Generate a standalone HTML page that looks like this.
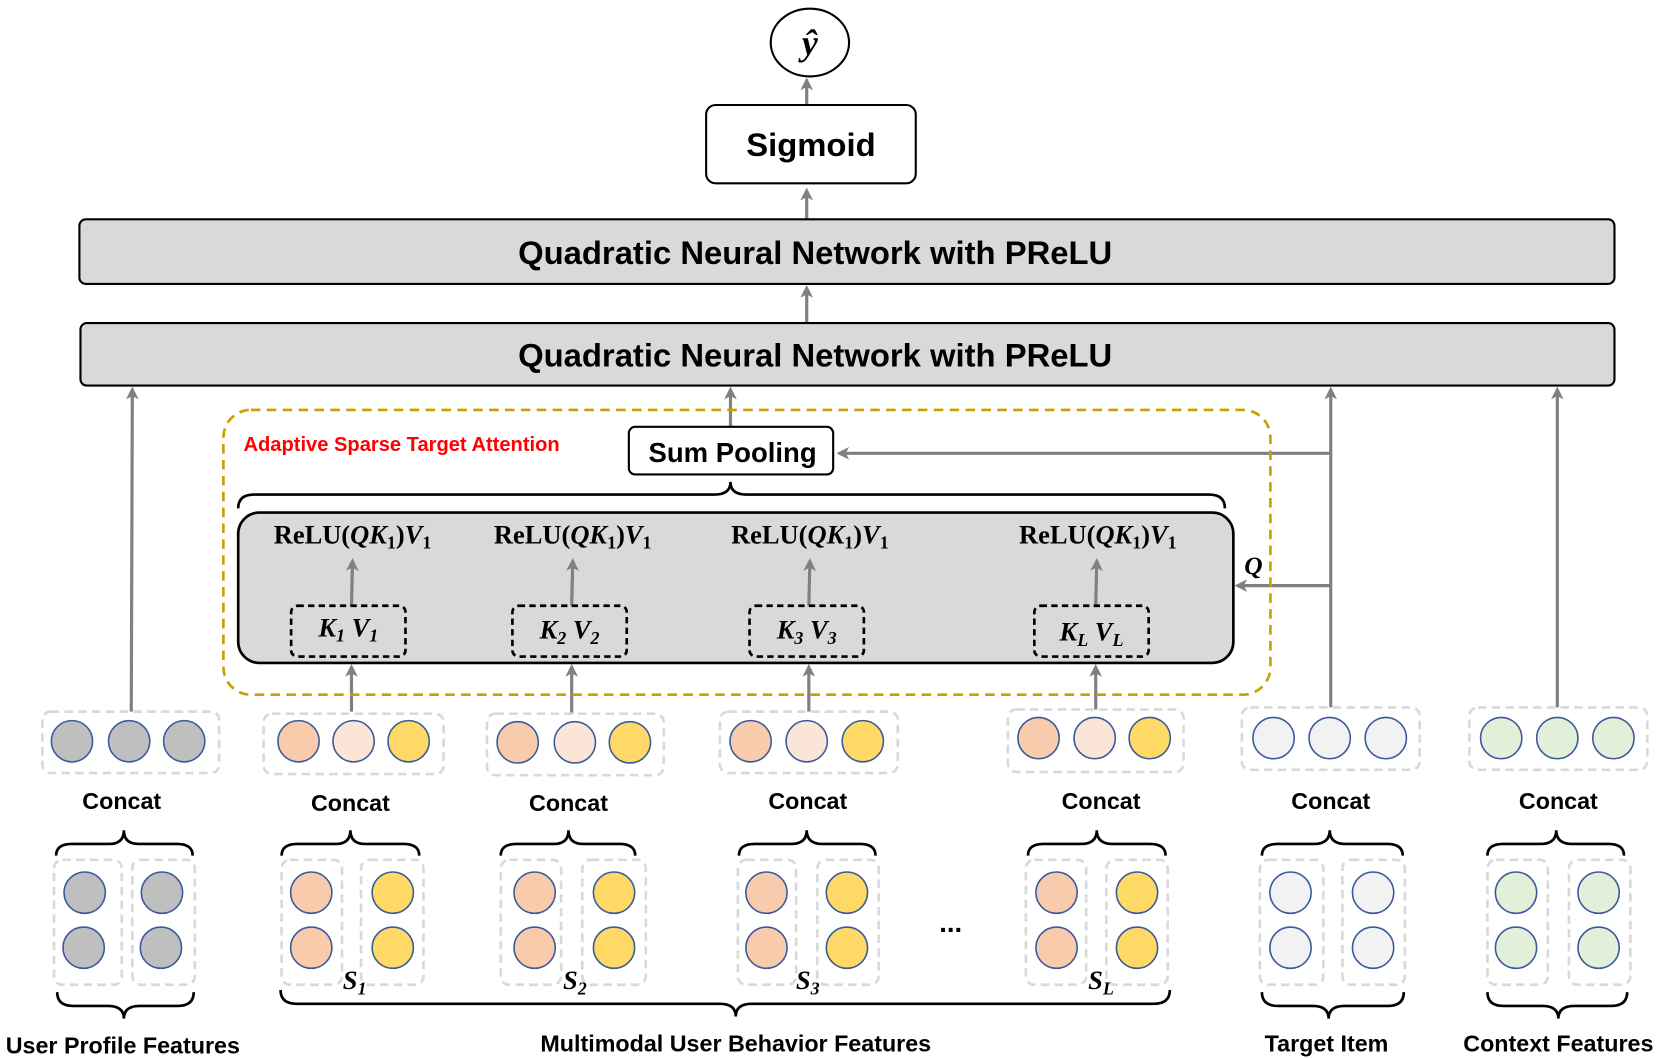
<!DOCTYPE html>
<html><head><meta charset="utf-8"><style>
html,body{margin:0;padding:0;background:#fff;}
svg{display:block;}
.s{font-family:"Liberation Sans",sans-serif;font-weight:bold;fill:#000;}
.m{font-family:"Liberation Serif","DejaVu Serif",serif;font-weight:bold;fill:#000;}
.i{font-style:italic;}
</style></head><body>
<svg width="1660" height="1058" viewBox="0 0 1568 999" xmlns="http://www.w3.org/2000/svg">
<defs>
<marker id="a" markerWidth="4" markerHeight="4" refX="3" refY="2" orient="auto" markerUnits="strokeWidth">
<path d="M0,0 L4,2 L0,4 L1,2 z" fill="#808080"/></marker>
</defs>
<g stroke="#808080" stroke-width="3" fill="none" marker-end="url(#a)">
<line x1="762" y1="99" x2="762" y2="76"/>
<line x1="762" y1="207" x2="762" y2="180"/>
<line x1="762" y1="305" x2="762" y2="272"/>
<line x1="690" y1="403" x2="690" y2="368"/>
<line x1="124" y1="672" x2="125" y2="368"/>
<line x1="1257" y1="668" x2="1257" y2="368"/>
<line x1="1471" y1="668" x2="1471" y2="368"/>
<line x1="1257" y1="428" x2="793" y2="428"/>
<line x1="1257" y1="553" x2="1169" y2="553"/>
<line x1="332" y1="672" x2="332" y2="630"/>
<line x1="540" y1="674" x2="540" y2="630"/>
<line x1="764" y1="672" x2="764" y2="630"/>
<line x1="1035" y1="670" x2="1035" y2="630"/>
</g>
<ellipse cx="765" cy="40" rx="37" ry="32" fill="#fff" stroke="#000" stroke-width="2"/>
<text x="765" y="52" text-anchor="middle" class="m i" font-size="34">ŷ</text>
<rect x="667" y="99" width="198" height="74" rx="9" fill="#fff" stroke="#000" stroke-width="2"/>
<text x="766" y="147" text-anchor="middle" class="s" font-size="31">Sigmoid</text>
<rect x="75" y="207" width="1450" height="61" rx="6" fill="#d9d9d9" stroke="#000" stroke-width="2"/>
<text x="770" y="249" text-anchor="middle" class="s" font-size="31">Quadratic Neural Network with PReLU</text>
<rect x="76" y="305" width="1449" height="59" rx="6" fill="#d9d9d9" stroke="#000" stroke-width="2"/>
<text x="770" y="346" text-anchor="middle" class="s" font-size="31">Quadratic Neural Network with PReLU</text>
<rect x="211" y="387" width="989" height="269" rx="26" fill="none" stroke="#c9a000" stroke-width="2.5" stroke-dasharray="9,6"/>
<text x="230" y="426" class="s" font-size="19" style="fill:#ff0000">Adaptive Sparse Target Attention</text>
<rect x="594" y="403" width="193" height="45" rx="6" fill="#fff" stroke="#000" stroke-width="2"/>
<text x="692" y="436" text-anchor="middle" class="s" font-size="26">Sum Pooling</text>
<path d="M225,480 Q225,467 240,467 L675,467 Q690,467 690,455 Q690,467 705,467 L1142,467 Q1157,467 1157,480" fill="none" stroke="#000" stroke-width="2.5"/>
<rect x="225" y="484" width="940" height="142" rx="20" fill="#d9d9d9" stroke="#000" stroke-width="2.5"/>
<g stroke="#808080" stroke-width="3" fill="none" marker-end="url(#a)">
<line x1="332" y1="572" x2="333" y2="530"/>
<line x1="540" y1="572" x2="541" y2="530"/>
<line x1="764" y1="572" x2="765" y2="530"/>
<line x1="1035" y1="572" x2="1036" y2="530"/>
</g>
<g class="m" font-size="25" text-anchor="middle">
<text x="333" y="513">ReLU(<tspan class="i">QK</tspan><tspan font-size="17" dy="5">1</tspan><tspan dy="-5">)</tspan><tspan class="i">V</tspan><tspan font-size="17" dy="5">1</tspan></text>
<text x="541" y="513">ReLU(<tspan class="i">QK</tspan><tspan font-size="17" dy="5">1</tspan><tspan dy="-5">)</tspan><tspan class="i">V</tspan><tspan font-size="17" dy="5">1</tspan></text>
<text x="765" y="513">ReLU(<tspan class="i">QK</tspan><tspan font-size="17" dy="5">1</tspan><tspan dy="-5">)</tspan><tspan class="i">V</tspan><tspan font-size="17" dy="5">1</tspan></text>
<text x="1037" y="513">ReLU(<tspan class="i">QK</tspan><tspan font-size="17" dy="5">1</tspan><tspan dy="-5">)</tspan><tspan class="i">V</tspan><tspan font-size="17" dy="5">1</tspan></text>
</g>
<g fill="none" stroke="#000" stroke-width="2.5" stroke-dasharray="6,4">
<rect x="275" y="572" width="108" height="48" rx="6"/>
<rect x="484" y="572" width="108" height="48" rx="6"/>
<rect x="708" y="572" width="108" height="48" rx="6"/>
<rect x="977" y="572" width="108" height="48" rx="6"/>
</g>
<g class="m i" font-size="25" text-anchor="middle">
<text x="329" y="601">K<tspan font-size="17" dy="5">1</tspan><tspan dy="-5">  V</tspan><tspan font-size="17" dy="5">1</tspan></text>
<text x="538" y="603">K<tspan font-size="17" dy="5">2</tspan><tspan dy="-5"> V</tspan><tspan font-size="17" dy="5">2</tspan></text>
<text x="762" y="603">K<tspan font-size="17" dy="5">3</tspan><tspan dy="-5"> V</tspan><tspan font-size="17" dy="5">3</tspan></text>
<text x="1031" y="605">K<tspan font-size="17" dy="5">L</tspan><tspan dy="-5"> V</tspan><tspan font-size="17" dy="5">L</tspan></text>
</g>
<text x="1184" y="542" text-anchor="middle" class="m i" font-size="24">Q</text>
<g fill="none" stroke="#d9d9d9" stroke-width="2.5" stroke-dasharray="8,5">
<rect x="40" y="672" width="167" height="58" rx="8"/>
<rect x="249" y="674" width="170" height="57" rx="8"/>
<rect x="460" y="674" width="167" height="58" rx="8"/>
<rect x="680" y="672" width="168" height="58" rx="8"/>
<rect x="952" y="670" width="166" height="59" rx="8"/>
<rect x="1173" y="668" width="168" height="59" rx="8"/>
<rect x="1388" y="668" width="168" height="59" rx="8"/>
<rect x="51" y="812" width="64" height="118" rx="8"/><rect x="125" y="812" width="59" height="118" rx="8"/>
<rect x="266" y="812" width="57" height="118" rx="8"/><rect x="341" y="812" width="59" height="118" rx="8"/>
<rect x="473" y="812" width="57" height="118" rx="8"/><rect x="550" y="812" width="60" height="118" rx="8"/>
<rect x="697" y="812" width="55" height="118" rx="8"/><rect x="772" y="812" width="58" height="118" rx="8"/>
<rect x="969" y="812" width="57" height="118" rx="8"/><rect x="1045" y="812" width="58" height="118" rx="8"/>
<rect x="1190" y="812" width="60" height="118" rx="8"/><rect x="1268" y="812" width="59" height="118" rx="8"/>
<rect x="1405" y="812" width="57" height="118" rx="8"/><rect x="1482" y="812" width="58" height="118" rx="8"/>
</g>
<g stroke="#3c5a9a" stroke-width="1.5">
<g fill="#bfbfbf"><circle cx="68" cy="700" r="19.5"/><circle cx="122" cy="700" r="19.5"/><circle cx="174" cy="700" r="19.5"/>
<circle cx="80" cy="843" r="19.5"/><circle cx="79" cy="895" r="19.5"/><circle cx="153" cy="843" r="19.5"/><circle cx="152" cy="895" r="19.5"/></g>
<g fill="#f8cbad"><circle cx="282" cy="700" r="19.5"/><circle cx="489" cy="701" r="19.5"/><circle cx="709" cy="700" r="19.5"/><circle cx="981" cy="697" r="19.5"/>
<circle cx="294" cy="843" r="19.5"/><circle cx="294" cy="895" r="19.5"/><circle cx="505" cy="843" r="19.5"/><circle cx="505" cy="895" r="19.5"/>
<circle cx="724" cy="843" r="19.5"/><circle cx="724" cy="895" r="19.5"/><circle cx="998" cy="843" r="19.5"/><circle cx="998" cy="895" r="19.5"/></g>
<g fill="#fbe5d6"><circle cx="334" cy="700" r="19.5"/><circle cx="543" cy="701" r="19.5"/><circle cx="762" cy="700" r="19.5"/><circle cx="1034" cy="697" r="19.5"/></g>
<g fill="#ffd966"><circle cx="386" cy="700" r="19.5"/><circle cx="595" cy="701" r="19.5"/><circle cx="815" cy="700" r="19.5"/><circle cx="1086" cy="697" r="19.5"/>
<circle cx="371" cy="843" r="19.5"/><circle cx="371" cy="895" r="19.5"/><circle cx="580" cy="843" r="19.5"/><circle cx="580" cy="895" r="19.5"/>
<circle cx="800" cy="843" r="19.5"/><circle cx="800" cy="895" r="19.5"/><circle cx="1074" cy="843" r="19.5"/><circle cx="1074" cy="895" r="19.5"/></g>
<g fill="#f2f2f2"><circle cx="1203" cy="697" r="19.5"/><circle cx="1256" cy="697" r="19.5"/><circle cx="1309" cy="697" r="19.5"/>
<circle cx="1219" cy="843" r="19.5"/><circle cx="1219" cy="895" r="19.5"/><circle cx="1297" cy="843" r="19.5"/><circle cx="1297" cy="895" r="19.5"/></g>
<g fill="#e2f0d9"><circle cx="1418" cy="697" r="19.5"/><circle cx="1471" cy="697" r="19.5"/><circle cx="1524" cy="697" r="19.5"/>
<circle cx="1432" cy="843" r="19.5"/><circle cx="1432" cy="895" r="19.5"/><circle cx="1510" cy="843" r="19.5"/><circle cx="1510" cy="895" r="19.5"/></g>
</g>
<g class="s" font-size="22" text-anchor="middle">
<text x="115" y="764">Concat</text><text x="331" y="766">Concat</text><text x="537" y="766">Concat</text>
<text x="763" y="764">Concat</text><text x="1040" y="764">Concat</text><text x="1257" y="764">Concat</text><text x="1472" y="764">Concat</text>
<text x="116" y="995">User Profile Features</text>
<text x="695" y="993">Multimodal User Behavior Features</text>
<text x="1253" y="993">Target Item</text>
<text x="1472" y="993">Context Features</text>
<text x="898" y="880" font-size="26">...</text>
</g>
<g class="m i" font-size="25" text-anchor="middle">
<text x="335" y="934">S<tspan font-size="17" dy="5">1</tspan></text>
<text x="543" y="934">S<tspan font-size="17" dy="5">2</tspan></text>
<text x="763" y="934">S<tspan font-size="17" dy="5">3</tspan></text>
<text x="1040" y="934">S<tspan font-size="17" dy="5">L</tspan></text>
</g>
<g fill="none" stroke="#000" stroke-width="2.5">
<path d="M53,808 Q53,797 68,797 L103,797 Q117,797 117,784 Q117,797 131,797 L167,797 Q182,797 182,808"/>
<path d="M266,808 Q266,797 281,797 L317,797 Q331,797 331,784 Q331,797 345,797 L381,797 Q396,797 396,808"/>
<path d="M473,808 Q473,797 488,797 L523,797 Q537,797 537,784 Q537,797 551,797 L585,797 Q600,797 600,808"/>
<path d="M698,808 Q698,797 713,797 L747,797 Q762,797 762,784 Q762,797 777,797 L812,797 Q827,797 827,808"/>
<path d="M971,808 Q971,797 986,797 L1021,797 Q1036,797 1036,784 Q1036,797 1051,797 L1086,797 Q1101,797 1101,808"/>
<path d="M1192,808 Q1192,797 1207,797 L1241,797 Q1256,797 1256,784 Q1256,797 1271,797 L1310,797 Q1325,797 1325,808"/>
<path d="M1405,808 Q1405,797 1420,797 L1455,797 Q1470,797 1470,784 Q1470,797 1485,797 L1519,797 Q1534,797 1534,808"/>
<path d="M54,937 Q54,950 69,950 L102,950 Q117,950 117,962 Q117,950 132,950 L168,950 Q183,950 183,937"/>
<path d="M265,935 Q265,948 280,948 L680,948 Q695,948 695,960 Q695,948 710,948 L1090,948 Q1105,948 1105,935"/>
<path d="M1192,937 Q1192,950 1207,950 L1240,950 Q1255,950 1255,962 Q1255,950 1270,950 L1311,950 Q1326,950 1326,937"/>
<path d="M1405,937 Q1405,950 1420,950 L1457,950 Q1472,950 1472,962 Q1472,950 1487,950 L1522,950 Q1537,950 1537,937"/>
</g>
</svg>
</body></html>
